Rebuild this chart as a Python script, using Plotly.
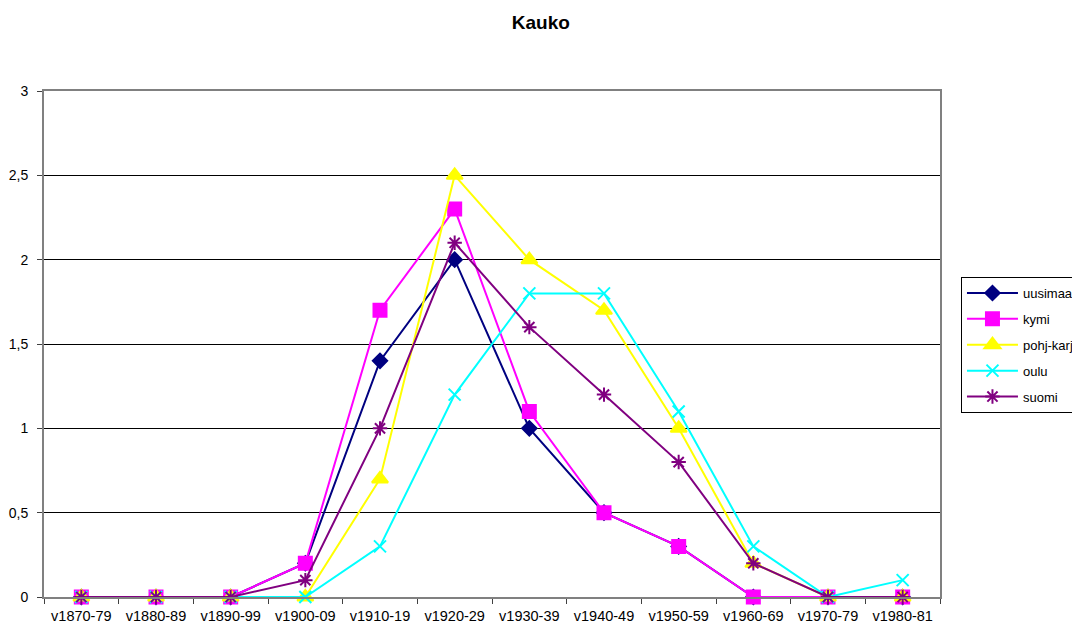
import plotly.graph_objects as go

categories = ["v1870-79", "v1880-89", "v1890-99", "v1900-09", "v1910-19", "v1920-29",
              "v1930-39", "v1940-49", "v1950-59", "v1960-69", "v1970-79", "v1980-81"]
uusimaa = [0, 0, 0, 0.2, 1.4, 2.0, 1.0, 0.5, 0.3, 0, 0, 0]
kymi = [0, 0, 0, 0.2, 1.7, 2.3, 1.1, 0.5, 0.3, 0, 0, 0]
pohj_karj = [0, 0, 0, 0, 0.7, 2.5, 2.0, 1.7, 1.0, 0.2, 0, 0]
oulu = [0, 0, 0, 0, 0.3, 1.2, 1.8, 1.8, 1.1, 0.3, 0, 0.1]
suomi = [0, 0, 0, 0.1, 1.0, 2.1, 1.6, 1.2, 0.8, 0.2, 0, 0]
y_ticks = [0, 0.5, 1, 1.5, 2, 2.5, 3]
y_ticktext = ["0", "0,5", "1", "1,5", "2", "2,5", "3"]

series = [
    ("uusimaa", uusimaa, "#000080", "diamond", 11),
    ("kymi", kymi, "#FF00FF", "square", 13),
    ("pohj-karj", pohj_karj, "#FFFF00", "triangle-up", 14),
    ("oulu", oulu, "#00FFFF", "x-thin-open", 12),
    ("suomi", suomi, "#800080", "asterisk-open", 12),
]

fig = go.Figure()
for name, vals, color, sym, size in series:
    fig.add_trace(go.Scatter(
        x=categories, y=vals, name=name, mode="lines+markers",
        legendgroup=name, cliponaxis=False,
        line=dict(color=color, width=2),
        marker=dict(symbol=sym, size=size, color=color,
                    line=dict(color=color, width=2)),
    ))

fig.update_layout(
    width=1072, height=617,
    margin=dict(l=36, r=140, t=83, b=28, autoexpand=False),
    paper_bgcolor="white", plot_bgcolor="white",
    font=dict(family="Liberation Sans, Arial, sans-serif", size=13, color="black"),
    title=dict(text="<b>Kauko</b>", x=0.497, xanchor="center", y=0.9773, yanchor="middle",
               font=dict(size=19, color="black")),
    showlegend=True,
    legend=dict(x=1.0234, xanchor="left", y=0.6324, yanchor="top",
                bordercolor="black", borderwidth=1, bgcolor="white",
                font=dict(size=13), traceorder="grouped", tracegroupgap=6,
                itemwidth=51, entrywidth=140),
)
fig.update_xaxes(
    type="category", range=[-0.5, 11.5], showgrid=False, automargin=False,
    showline=True, linecolor="#808080", linewidth=2, mirror=True,
    ticks="outside", tickson="boundaries", ticklen=5, tickcolor="#404040",
    tickfont=dict(size=14.5), ticklabelstandoff=5, zeroline=False,
)
fig.update_yaxes(
    range=[0, 3], tickvals=y_ticks, ticktext=y_ticktext, automargin=False,
    showgrid=True, gridcolor="black", gridwidth=1,
    showline=True, linecolor="#808080", linewidth=2, mirror=True,
    ticks="outside", ticklen=5, tickcolor="#404040",
    tickfont=dict(size=14), ticklabelstandoff=6, zeroline=False,
)
fig.write_html("out.html")
